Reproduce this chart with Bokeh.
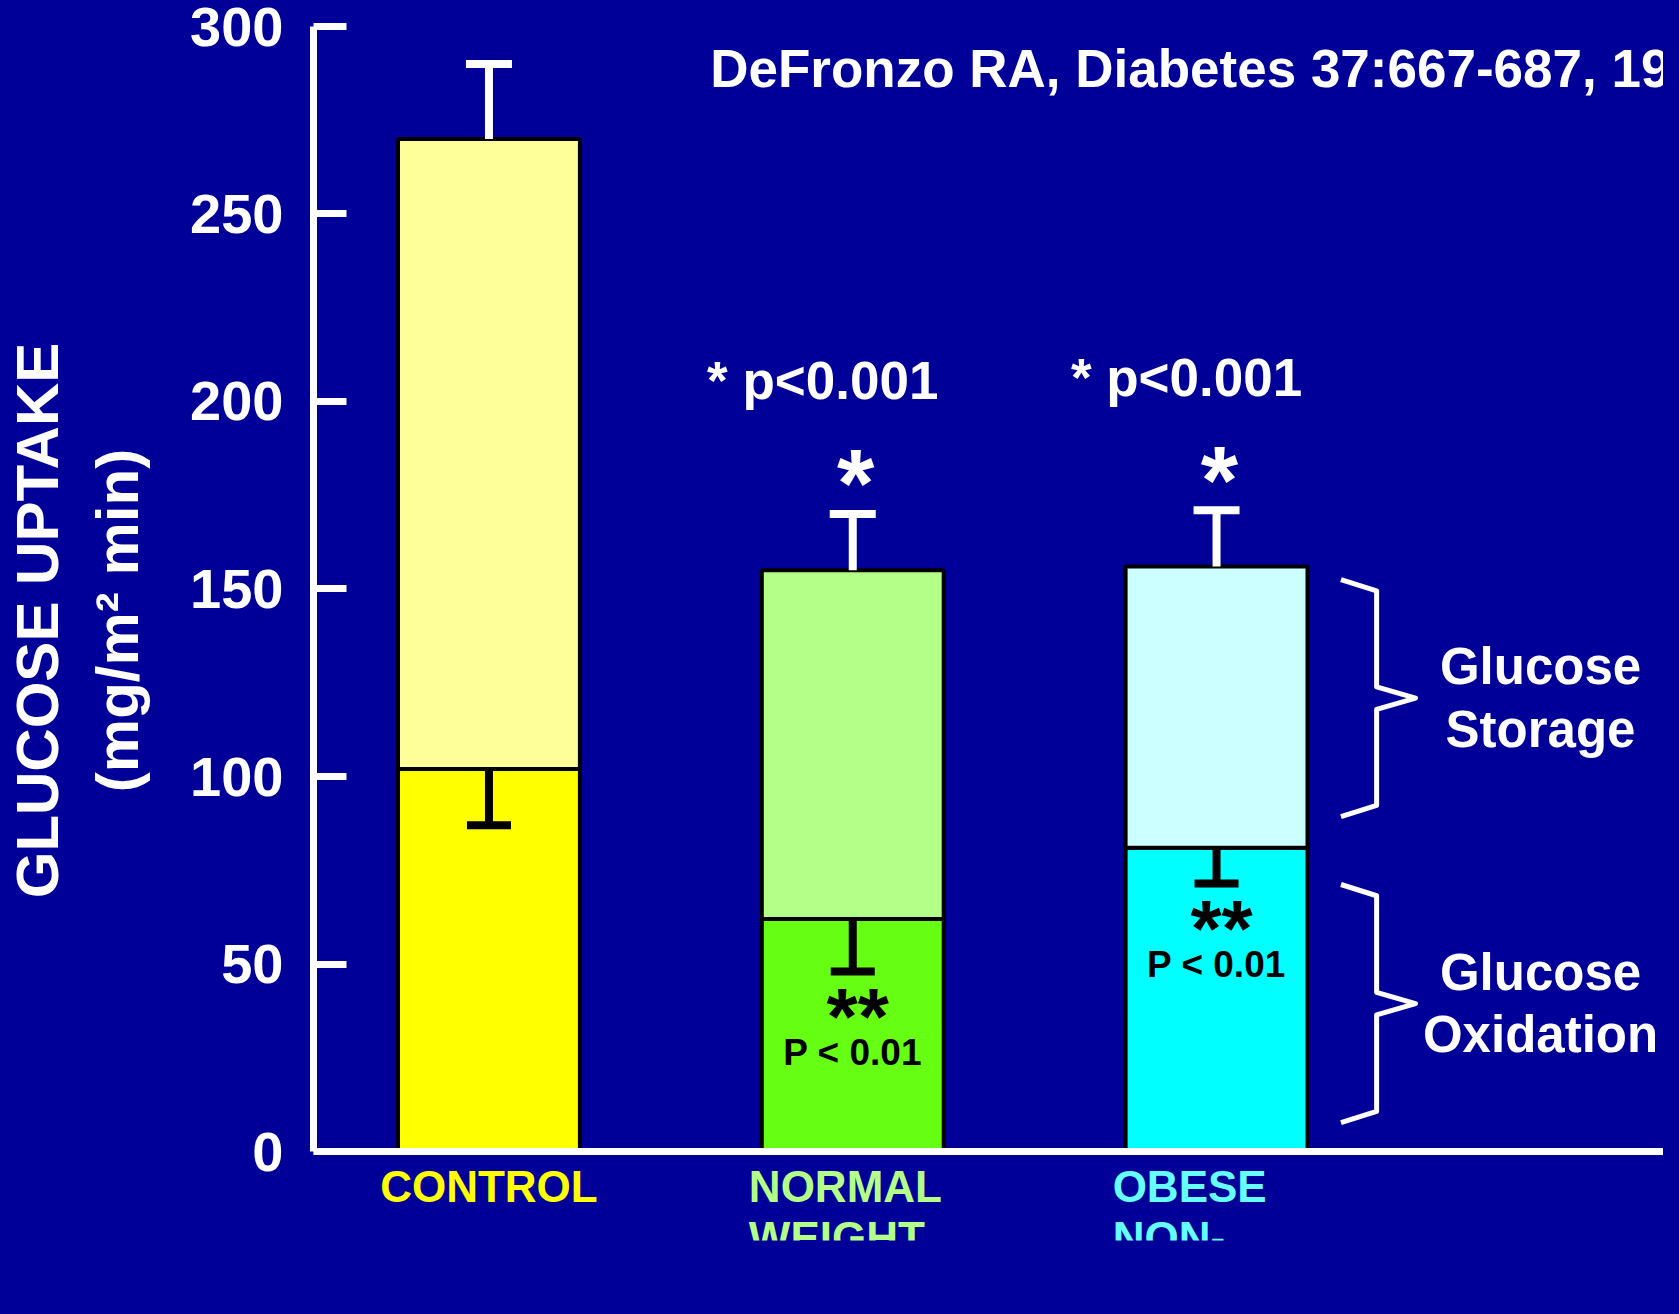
from bokeh.plotting import figure
from bokeh.layouts import gridplot
from bokeh.models import (ColumnDataSource, Range1d, FixedTicker, Whisker, TeeHead,
                          LabelSet, Label, GlobalInlineStyleSheet)
from bokeh.core.properties import value
from bokeh.embed import file_html
from bokeh.resources import INLINE

# ---------------- data ----------------
groups = ["CONTROL", "NORMAL WEIGHT DIABETIC", "OBESE NON-DIABETIC"]
group_labels = ["CONTROL", "NORMAL\nWEIGHT\nDIABETIC", "OBESE\nNON-\nDIABETIC"]
oxidation = [102, 62, 81]          # glucose oxidation (lower segment)
storage = [168, 93, 75]            # glucose storage (upper segment)
total_se = [20, 15, 15]            # SE of total uptake
oxidation_se = [15, 14, 9.5]       # SE of oxidation
total_sig = ["", "*", "*"]
total_p = ["", "* p<0.001", "* p<0.001"]
oxidation_sig = ["", "**", "**"]
oxidation_p = ["", "P < 0.01", "P < 0.01"]
y_ticks = [0, 50, 100, 150, 200, 250, 300]
title_text = "DeFronzo RA, Diabetes 37:667-687, 19"
brace_texts = ["Glucose\nStorage", "Glucose\nOxidation"]
brace_spans = [(152.5, 89.3), (71.2, 7.7)]   # (top, bottom) of the two braces

# ---------------- styles ----------------
BG = "#000099"
FONT_NAME = "Liberation Sans"
oxidation_colors = ["#FFFF00", "#66FF14", "#00FFFF"]
storage_colors = ["#FFFF99", "#B3FF88", "#CCFFFF"]
label_colors = ["#FFFF00", "#B3FF88", "#66FFFF"]

x = list(range(len(groups)))
total = [o + s for o, s in zip(oxidation, storage)]
src = ColumnDataSource(dict(
    x=x, ox=oxidation, total=total,
    total_hi=[t + e for t, e in zip(total, total_se)],
    ox_lo=[o - e for o, e in zip(oxidation, oxidation_se)],
    ox_color=oxidation_colors, st_color=storage_colors,
    label=group_labels, label_color=label_colors,
))
sig_idx = [i for i, s in enumerate(total_sig) if s]
sig_src = ColumnDataSource(dict(
    x=[x[i] for i in sig_idx], y=[total[i] + total_se[i] for i in sig_idx],
    star=[total_sig[i] for i in sig_idx], ptxt=[total_p[i] for i in sig_idx]))
osig_idx = [i for i, s in enumerate(oxidation_sig) if s]
osig_src = ColumnDataSource(dict(
    x=[x[i] for i in osig_idx], y=[oxidation[i] - oxidation_se[i] for i in osig_idx],
    star=[oxidation_sig[i] for i in osig_idx], ptxt=[oxidation_p[i] for i in osig_idx]))

p = figure(width=1663, height=1298,
           x_range=Range1d(-0.4823, 3.2286), y_range=Range1d(-23.73, 306.93),
           output_backend="svg", toolbar_location=None,
           min_border_left=302, min_border_right=0, min_border_bottom=58, min_border_top=0,
           background_fill_color=BG, border_fill_color=BG, outline_line_color=None)
p.stylesheets = [GlobalInlineStyleSheet(css="html, body { background-color: #000099; }")]
p.grid.visible = False

ya = p.yaxis[0]
ya.ticker = FixedTicker(ticks=y_ticks)
ya.bounds = (0, 300)
ya.axis_line_color = "white"
ya.axis_line_width = 7
ya.major_tick_line_color = "white"
ya.major_tick_line_width = 7
ya.major_tick_in = 33
ya.major_tick_out = 0
ya.minor_tick_line_color = None
ya.major_label_standoff = 30
ya.major_label_text_color = "white"
ya.major_label_text_font = FONT_NAME
ya.major_label_text_font_style = "bold"
ya.major_label_text_font_size = "56px"
ya.axis_label = "GLUCOSE UPTAKE\n(mg/m\u00b2 min)"
ya.axis_label_text_color = "white"
ya.axis_label_text_font = FONT_NAME
ya.axis_label_text_font_style = "bold"
ya.axis_label_text_font_size = "60px"
ya.axis_label_standoff = 36

xa = p.xaxis[0]
xa.fixed_location = 0
xa.ticker = FixedTicker(ticks=[])
xa.major_label_text_font_size = "0px"
xa.axis_line_color = "white"
xa.axis_line_width = 7

p.vbar(x="x", width=0.5, bottom=0, top="ox", source=src, fill_color="ox_color",
       line_color="black", line_width=4)
p.vbar(x="x", width=0.5, bottom="ox", top="total", source=src, fill_color="st_color",
       line_color="black", line_width=4)

p.add_layout(Whisker(base="x", lower="total", upper="total_hi", source=src,
                     line_color="white", line_width=8, level="annotation",
                     upper_head=TeeHead(size=46, line_color="white", line_width=8),
                     lower_head=TeeHead(size=0, line_alpha=0)))
p.add_layout(Whisker(base="x", lower="ox_lo", upper="ox", source=src,
                     line_color="black", line_width=8, level="annotation",
                     lower_head=TeeHead(size=44, line_color="black", line_width=8),
                     upper_head=TeeHead(size=0, line_alpha=0)))

p.text(x="x", y="y", text="star", source=sig_src, text_font=value(FONT_NAME), text_font_style="bold",
       text_font_size="96px", text_color="white", text_align="center",
       text_baseline="alphabetic", x_offset=3, y_offset=-31)
p.text(x="x", y="y", text="ptxt", source=sig_src, text_font=value(FONT_NAME), text_font_style="bold",
       text_font_size="53px", text_color="white", text_align="center",
       text_baseline="alphabetic", x_offset=-30, y_offset=-133)
p.text(x="x", y="y", text="star", source=osig_src, text_font=value(FONT_NAME), text_font_style="bold",
       text_font_size="80px", text_color="black", text_align="center",
       text_baseline="alphabetic", x_offset=5, y_offset=45)
p.text(x="x", y="y", text="ptxt", source=osig_src, text_font=value(FONT_NAME), text_font_style="bold",
       text_font_size="37px", text_color="black", text_align="center",
       text_baseline="alphabetic", x_offset=0, y_offset=81)

p.add_layout(LabelSet(x="x", y=0, text="label", source=src, text_color="label_color",
                      text_font=value(FONT_NAME), text_font_style="bold", text_font_size="44px",
                      text_align="center", text_baseline="top", text_line_height=1.06,
                      y_offset=-10))

p.add_layout(Label(x=0.608, y=288.8, text=title_text, text_color="white",
                   text_font=FONT_NAME, text_font_style="bold", text_font_size="53px",
                   text_align="left", text_baseline="alphabetic"))

for (top, bot), txt in zip(brace_spans, brace_texts):
    ym = (top + bot) / 2
    p.line([2.342, 2.44, 2.44, 2.547, 2.44, 2.44, 2.342],
           [top, top - 3, ym + 3, ym, ym - 3, bot + 3, bot],
           line_color="white", line_width=5, line_join="round")
    p.add_layout(Label(x=2.547, y=ym, text=txt, text_color="white", text_font=FONT_NAME,
                       text_font_style="bold", text_font_size="51px", text_align="center",
                       text_baseline="middle", text_line_height=1.1, x_offset=125))

root = gridplot([[p]], toolbar_location=None)
open("out.html", "w").write(file_html(root, INLINE))
